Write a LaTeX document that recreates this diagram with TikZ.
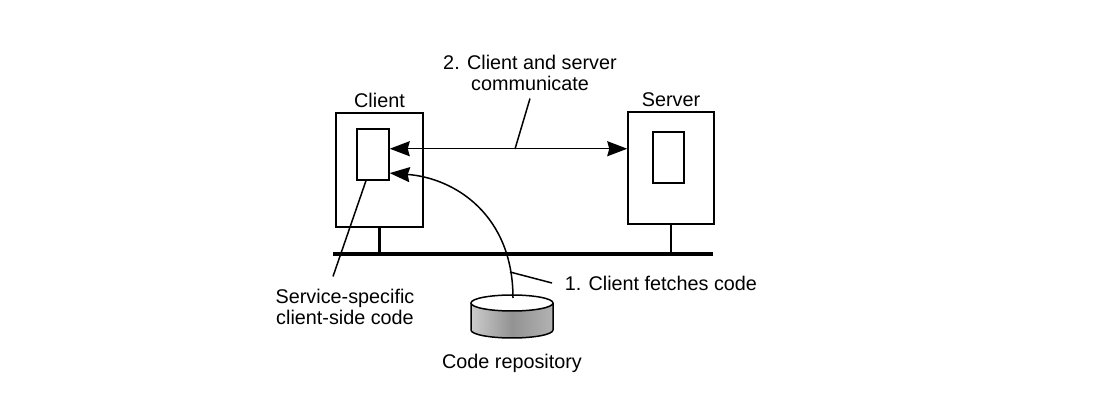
\documentclass[tikz,border=0pt]{standalone}
\usepackage{fontspec}
\setmainfont{Liberation Sans}
\usetikzlibrary{arrows.meta, positioning, calc}

\tikzset{
    box/.style={draw, line width=1.5pt, inner sep=0pt},
    lbl/.style={font=\fontsize{19.8}{21}\selectfont, inner sep=2pt, align=center},
    bigtip/.tip={Stealth[length=20pt, width=15pt, inset=2pt]}
}

\begin{document}
\begin{tikzpicture}[x=1pt, y=-1pt, line width=1.5pt]
\useasboundingbox (0,0) rectangle (1114,403);

% ── machines ──────────────────────────────────────────────────
\node[box, minimum width=87pt, minimum height=114pt] (client) at (379.5,170) {};
\node[box, minimum width=32pt, minimum height=51pt] (cinner) at (373,154.5) {};
\node[lbl, above=2pt of client] (clientlbl) {Client};

\node[box, minimum width=86pt, minimum height=112pt] (server) at (671,168) {};
\node[box, minimum width=31pt, minimum height=51pt] (sinner) at (668.5,157.5) {};
\node[lbl, above=2pt of server] (serverlbl) {Server};

% ── network ───────────────────────────────────────────────────
\coordinate (busL) at (333,254);
\coordinate (busR) at (713,254);
\draw[line width=3.8pt] (busL) -- (busR);
\draw[line width=2.8pt] (client.south) -- (client.south |- busL);
\draw[line width=2.8pt] (server.south) -- (server.south |- busL);

% ── code repository ───────────────────────────────────────────
\shade[left color=gray!40, right color=gray!60, middle color=gray!85]
    (471,303) -- (471,330) arc (180:0:41 and 8) -- (553,303) -- cycle;
\draw (471,303) -- (471,330) arc (180:0:41 and 8) -- (553,303);
\draw[fill=white] (512,303) ellipse (41 and 8);
\coordinate (repotop) at (513,298);
\node[lbl] (repolbl) at (512,363) {Code repository};

% ── communication ─────────────────────────────────────────────
\draw[bigtip-bigtip] (cinner.19) -- (cinner.19 -| server.west);
\coordinate (commpt) at (515,149);
\node[lbl] (commlbl) at (530,73) {2. Client and server\\communicate};
\draw (commpt) -- ([yshift=-5pt]commlbl.south);

% ── fetching code ─────────────────────────────────────────────
\draw[-bigtip] (repotop) .. controls (513,215) and (455,178) .. (cinner.-48);
\coordinate (fetchpt) at (510,272);
\node[lbl, anchor=west] (fetchlbl) at (562,283) {1. Client fetches code};
\draw (fetchpt) -- ([xshift=-10pt]fetchlbl.west);

% ── client-side code ──────────────────────────────────────────
\node[lbl] (sslbl) at (345,307) {Service-specific\\client-side code};
\draw (cinner.-105) -- ([xshift=-12pt, yshift=10pt]sslbl.north);

\end{tikzpicture}
\end{document}
